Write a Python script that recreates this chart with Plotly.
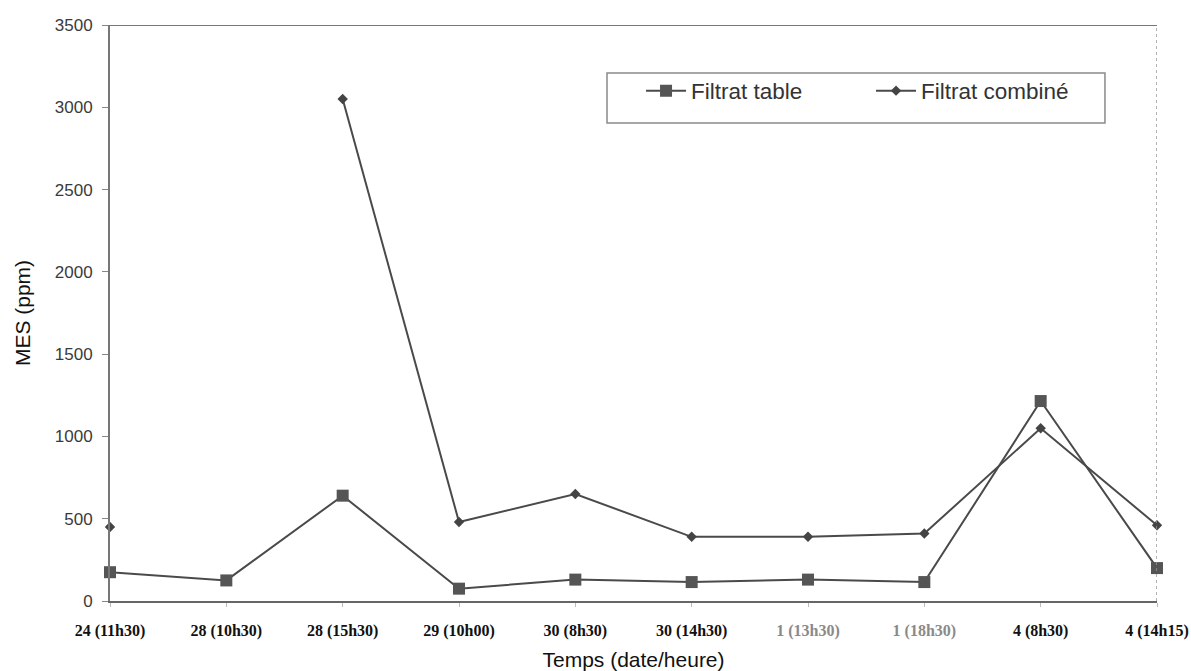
import plotly.graph_objects as go

categories = ["24 (11h30)", "28 (10h30)", "28 (15h30)", "29 (10h00)", "30 (8h30)",
              "30 (14h30)", "1 (13h30)", "1 (18h30)", "4 (8h30)", "4 (14h15)"]
filtrat_table = [175, 125, 640, 75, 130, 115, 130, 115, 1215, 200]
filtrat_combine = [450, None, 3050, 480, 650, 390, 390, 410, 1050, 460]
y_ticks = [0, 500, 1000, 1500, 2000, 2500, 3000, 3500]

x_idx = list(range(len(categories)))
tick_colors = ["#111", "#111", "#111", "#111", "#111", "#111", "#8a8a8a", "#8a8a8a", "#111", "#111"]
tick_text = [f"<span style='color:{c}'><b>{t}</b></span>" for t, c in zip(categories, tick_colors)]

fig = go.Figure()
fig.add_trace(go.Scatter(
    x=x_idx, y=filtrat_table, name="Filtrat table", mode="lines+markers",
    line=dict(color="#4a4a4a", width=2),
    marker=dict(symbol="square", size=12, color="#555555"),
    cliponaxis=False,
))
fig.add_trace(go.Scatter(
    x=x_idx, y=filtrat_combine, name="Filtrat combiné", mode="lines+markers",
    line=dict(color="#4a4a4a", width=2),
    marker=dict(symbol="diamond", size=8, color="#444444"),
    connectgaps=False, cliponaxis=False,
))

# frame: top solid line, right dotted line
fig.add_shape(type="line", xref="x", yref="y", x0=0, x1=len(categories) - 1, y0=3500, y1=3500,
              line=dict(color="#777777", width=2))
fig.add_shape(type="line", xref="x", yref="y", x0=len(categories) - 1, x1=len(categories) - 1, y0=0, y1=3500,
              line=dict(color="#999999", width=1.5, dash="dot"))
# legend box
fig.add_shape(type="rect", xref="paper", yref="paper", x0=0.4747, x1=0.9503, y0=0.8299, y1=0.9167,
              line=dict(color="#8a8a8a", width=1.5), fillcolor="white", layer="below")

fig.update_layout(
    width=1191, height=671,
    margin=dict(l=110, r=34, t=25, b=70, autoexpand=False),
    paper_bgcolor="white", plot_bgcolor="white",
    showlegend=True,
    legend=dict(
        orientation="h", x=0.5072, y=0.8854, xanchor="left", yanchor="middle",
        borderwidth=0, bgcolor="rgba(0,0,0,0)",
        font=dict(family="Liberation Sans, Arial", size=22.5, color="#333333"),
        itemwidth=40, entrywidth=175, entrywidthmode="pixels",
        traceorder="normal",
    ),
    xaxis=dict(
        range=[0, len(categories) - 1], tickmode="array", tickvals=x_idx, ticktext=tick_text,
        automargin=False,
        showgrid=False, zeroline=False, showline=True, linecolor="#666666", linewidth=2,
        ticks="outside", ticklen=4, tickcolor="#bbbbbb", ticklabelstandoff=10,
        tickfont=dict(family="Liberation Serif, Times New Roman", size=16, color="#111111"),
        title=dict(text="Temps (date/heure)", standoff=14,
                   font=dict(family="Liberation Sans, Arial", size=21, color="#111111")),
    ),
    yaxis=dict(
        range=[0, 3500], tickmode="array", tickvals=y_ticks,
        automargin=False,
        showgrid=False, zeroline=False, showline=True, linecolor="#777777", linewidth=2,
        ticks="outside", ticklen=6, tickcolor="#888888", ticklabelstandoff=6,
        tickfont=dict(family="Liberation Sans, Arial", size=17, color="#3a3a3a"),
        title=dict(text="MES (ppm)", standoff=18,
                   font=dict(family="Liberation Sans, Arial", size=21, color="#111111")),
    ),
)

fig.write_html(
    "out.html",
    config={"displayModeBar": False},
    post_script="document.body.style.margin='0';document.body.style.overflow='hidden';",
)
